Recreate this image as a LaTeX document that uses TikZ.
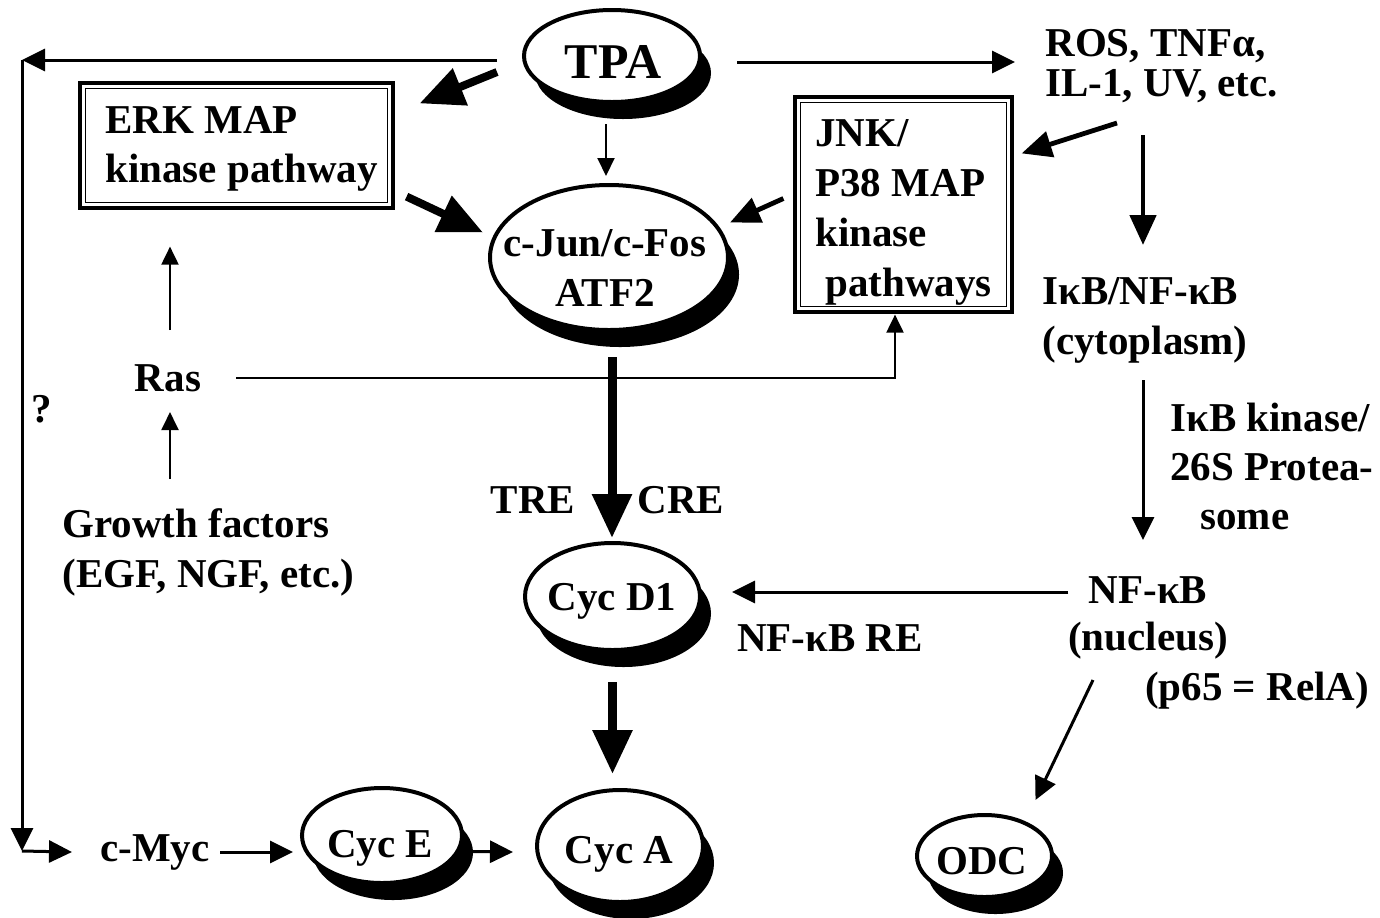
\documentclass[tikz,border=0pt]{standalone}
\usepackage{fontspec}
\setmainfont{Liberation Serif}
\usetikzlibrary{arrows.meta,shapes.geometric,shadows,calc}
\begin{document}
\begin{tikzpicture}[x=0.5pt,y=-0.5pt,
  txt/.style={font=\fontsize{20.5}{25}\selectfont\bfseries, inner sep=0pt, align=left},
  ell/.style={ellipse, draw, line width=2pt, fill=white, inner sep=0pt,
    drop shadow={shadow xshift=5.5pt, shadow yshift=-8.5pt, fill=black, opacity=1}},
  dbox/.style={draw, line width=1.6pt, inner sep=0pt},
  a1/.style={line width=1pt, -{Triangle[length=9pt,width=8.5pt]}},
  a2/.style={line width=1.5pt, -{Triangle[length=11.5pt,width=11pt]}},
  a3/.style={line width=2.4pt, -{Triangle[length=15pt,width=13pt]}},
  a4/.style={line width=4pt, -{Triangle[length=22pt,width=19pt]}}]
\useasboundingbox (0,0) rectangle (1380,917);

% ---------- ellipses ----------
\node[ell, minimum width=88pt, minimum height=46pt] (tpa) at (612,56) {};
\node[txt, font=\fontsize{25}{28}\selectfont\bfseries] (tpat) at (613,62) {TPA};
\node[ell, minimum width=119pt, minimum height=72.5pt] (cjun) at (609,257.5) {};
\node[txt, align=center] (cjunt) at (605,268) {c-Jun/c-Fos\\ATF2};
\node[ell, minimum width=87.5pt, minimum height=53.5pt] (cycd) at (612.5,596.5) {};
\node[txt] (cycdt) at (612,601) {Cyc D1};
\node[ell, minimum width=80pt, minimum height=47.5pt] (cyce) at (382,835.5) {};
\node[txt] (cycet) at (380,848) {Cyc E};
\node[ell, minimum width=83pt, minimum height=56pt] (cyca) at (620,846) {};
\node[txt] (cycat) at (619,854) {Cyc A};
\node[ell, minimum width=67.5pt, minimum height=41pt] (odc) at (984.5,856) {};
\node[txt] (odct) at (982,861) {ODC};

% ---------- double boxes ----------
\node[dbox, minimum width=156.5pt, minimum height=62.5pt] (erk) at (236.5,145.5) {};
\draw[line width=0.7pt] ([xshift=3.5pt,yshift=3.5pt]erk.south west) rectangle ([xshift=-3.5pt,yshift=-3.5pt]erk.north east);
\node[txt, anchor=west, font=\fontsize{20.5}{24.5}\selectfont\bfseries] (erkt) at (105,149) {ERK MAP\\kinase pathway};

\node[dbox, minimum width=108.5pt, minimum height=107.5pt] (jnk) at (903.5,204.5) {};
\draw[line width=0.7pt] ([xshift=3.5pt,yshift=3.5pt]jnk.south west) rectangle ([xshift=-3.5pt,yshift=-3.5pt]jnk.north east);
\node[txt, anchor=west] (jnkt) at (815,212) {JNK/\\P38 MAP\\kinase\\\hspace*{5pt}pathways};

% ---------- text labels ----------
\node[txt, anchor=west, font=\fontsize{20.5}{20}\selectfont\bfseries] (ros) at (1045,66) {ROS, TNFα,\\IL-1, UV, etc.};
\node[txt, anchor=west] (ikb) at (1042,320) {IκB/NF-κB\\(cytoplasm)};
\node[txt, anchor=west, font=\fontsize{20.5}{24.5}\selectfont\bfseries] (ikk) at (1170,466) {IκB kinase/\\26S Protea-\\\hspace*{15pt}some};
\node[txt] (nfkb) at (1148,590) {NF-κB};
\node[txt] (nuc) at (1148,641) {(nucleus)};
\node[txt] (p65) at (1257,691) {(p65 = RelA)};
\node[txt] (ras) at (168,378) {Ras};
\node[txt] (q) at (42,409) {?};
\node[txt, anchor=west] (gf) at (62,552) {Growth factors\\(EGF, NGF, etc.)};
\node[txt] (tre) at (533,500) {TRE};
\node[txt] (cre) at (681,500) {CRE};
\node[txt] (nfre) at (830,638) {NF-κB RE};
\node[txt] (cmyc) at (155,852) {c-Myc};

% ---------- connectors ----------
\coordinate (cornerTL) at (22,60);
\coordinate (cornerBL) at (22,851);
\draw[a2] ($(tpa.west)+(-25,4)$) -- (cornerTL);
\draw[a2] (cornerTL) -- (cornerBL);
\draw[a2] (cornerBL) -- ($(cmyc.west)+(-28,0)$);

\draw[a2] ($(tpa.east)+(35,6)$) coordinate (t1) -- (t1 -| ros.west) [shorten >=15pt];
\draw[a4] ($(tpa.west)+(-25,16)$) -- ($(erk.north east)+(25,22)$);
\draw[a1] ($(tpa.south)+(-6,20)$) coordinate (t2) -- (t2 |- cjun.north) [shorten >=3.5pt];
\draw[a4] ($(erk.south east)+(12,-13)$) -- ($(cjun.west)+(-5,-25)$);
\draw[a3] ($(jnk.west)+(-10,-6)$) -- ($(cjun.east)+(0,-35)$);
\draw[a3] ($(ros.west)+(72,57)$) -- ($(jnk.north east)+(8,58)$);
\draw[a3] ($(ros.west)+(98,69)$) coordinate (r1) -- ($(r1)+(0,110)$);
\draw[a2] ($(ikb.west)+(101,60)$) coordinate (i1) -- ($(i1)+(0,160)$);
\draw[a2] ($(nfkb.west)+(-20,2)$) coordinate (n1) -- (n1 -| cycd.east) [shorten >=15pt];
\draw[a2] ($(nfkb.center)+(-55,90)$) -- ($(odc.center)+(51,-56)$);

\draw[a1] ($(ras.center)+(2,-48)$) coordinate (ra) -- (ra |- erk.south) [shorten >=18.5pt];
\draw[a1] ($(gf.west)+(108,-73)$) coordinate (g1) -- (g1 |- ras.south) [shorten >=10pt];
\draw[a1] ($(ras.east)+(35,0)$) -| ($(jnk.south)+(-8.5,1)$);

\draw[a4, line width=4.5pt] ($(cjun.south)+(3,25)$) coordinate (c1) -- (c1 |- cycd.north) [shorten >=1.5pt];
\draw[a4, line width=4.5pt] ($(cycd.south)+(0,30)$) coordinate (c2) -- (c2 |- cyca.north) [shorten >=7pt];
\draw[a2] ($(cmyc.east)+(10,0)$) -- ($(cyce.west)+(-7,16.5)$);
\draw[a2] ($(cyce.east)+(6,16)$) -- ($(cyca.west)+(-22,6)$);
\end{tikzpicture}
\end{document}
